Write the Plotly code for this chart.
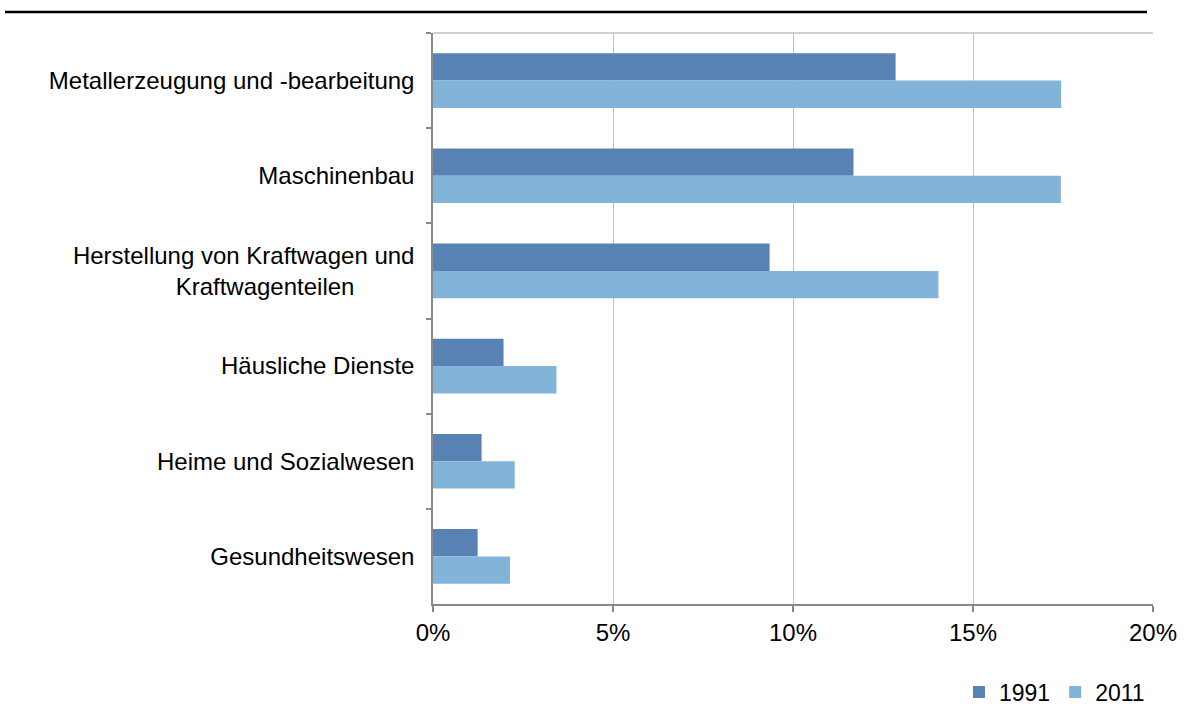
import plotly.graph_objects as go

NBSP = "\u00a0"
categories = [
    "Metallerzeugung und -bearbeitung",
    "Maschinenbau",
    "Herstellung von Kraftwagen und<br>Kraftwagenteilen" + NBSP * 9,
    "Häusliche Dienste",
    "Heime und Sozialwesen",
    "Gesundheitswesen",
]
values_1991 = [12.85, 11.68, 9.35, 1.96, 1.35, 1.24]
values_2011 = [17.45, 17.44, 14.04, 3.43, 2.27, 2.14]
x_ticks = [0, 5, 10, 15, 20]
x_ticktext = ["0%", "5%", "10%", "15%", "20%"]

FONT = "Arial, Liberation Sans, sans-serif"
FS = 24
C1991 = "#5982B4"
C2011 = "#82B3D8"
AXIS = "#888888"
GRID = "#C0C0C0"

fig = go.Figure()
fig.add_trace(go.Bar(y=categories, x=values_1991, orientation="h", name="1991",
                     marker=dict(color=C1991, line=dict(width=0))))
fig.add_trace(go.Bar(y=categories, x=values_2011, orientation="h", name="2011",
                     marker=dict(color=C2011, line=dict(width=0))))

L, R, T, B = 433, 31, 33, 102
W, H = 1184, 706
pw, ph = W - L - R, H - T - B

fig.update_layout(
    width=W, height=H,
    margin=dict(l=L, r=R, t=T, b=B, pad=0, autoexpand=False),
    paper_bgcolor="white", plot_bgcolor="white",
    barmode="group", bargap=0.425, bargroupgap=0,
    font=dict(family=FONT, size=FS, color="#000000"),
    showlegend=True,
    legend=dict(orientation="h", x=(1150 - L) / pw, xanchor="right",
                y=(H - B - 692) / ph, yanchor="middle",
                font=dict(size=23, family=FONT, color="#000000"),
                traceorder="normal", bgcolor="rgba(0,0,0,0)",
                itemwidth=30, tracegroupgap=0),
    xaxis=dict(range=[0, 20], tickvals=x_ticks, ticktext=x_ticktext,
               showgrid=True, gridcolor=GRID, gridwidth=1, zeroline=False,
               showline=True, linecolor=AXIS, linewidth=1.5,
               ticks="outside", ticklen=6, tickcolor=AXIS, tickwidth=1.5,
               tickfont=dict(size=FS, family=FONT, color="#000000"),
               fixedrange=True),
    yaxis=dict(autorange="reversed", type="category",
               showgrid=False, zeroline=False,
               showline=True, linecolor=AXIS, linewidth=1.5,
               ticks="outside", ticklen=5, tickcolor=AXIS, tickwidth=1.5,
               tickson="boundaries", ticklabelstandoff=12,
               tickfont=dict(size=FS, family=FONT, color="#000000"),
               fixedrange=True),
    shapes=[
        # top border of the plot area
        dict(type="line", xref="x domain", yref="y domain", x0=0, x1=1, y0=1, y1=1,
             line=dict(color=GRID, width=1.5)),
        # black rule at the top of the page
        dict(type="line", xref="paper", yref="paper",
             x0=(5 - L) / pw, x1=(1147 - L) / pw,
             y0=(H - B - 12) / ph, y1=(H - B - 12) / ph,
             line=dict(color="#000000", width=2.5)),
    ],
)

fig.write_html("out.html")
